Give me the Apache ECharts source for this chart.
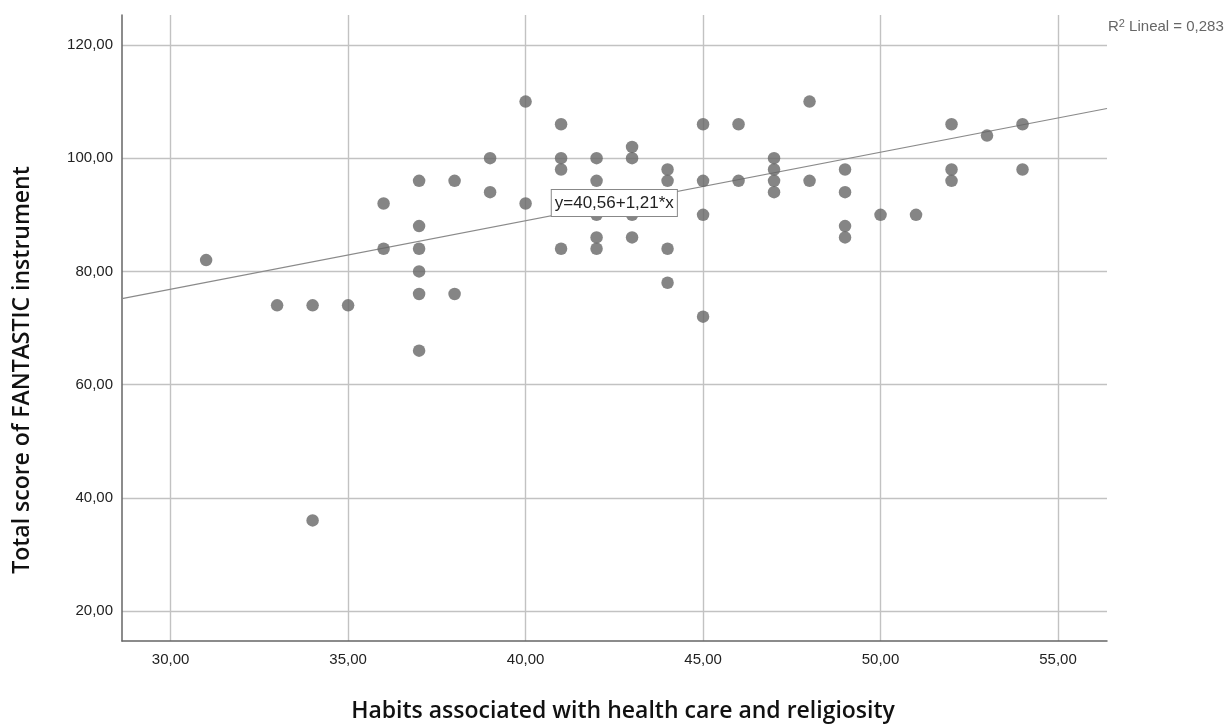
<!DOCTYPE html>
<html>
<head>
<meta charset="utf-8">
<script src="https://cdn.jsdelivr.net/npm/echarts@6/dist/echarts.min.js"></script>
<style>
html,body{margin:0;padding:0;background:#fff;}
#chart{width:1231px;height:727px;}
</style>
</head>
<body>
<div id="chart"></div>
<script>
// Data
const habitsX = [31,33,34,34,35,36,36,37,37,37,37,37,37,38,38,39,39,40,40,41,41,41,41,42,42,42,42,42,43,43,43,43,44,44,44,44,45,45,45,45,46,46,47,47,47,47,48,48,49,49,49,49,50,51,52,52,52,53,54,54];
const fantasticY = [82,74,74,36,74,92,84,96,88,84,80,76,66,96,76,100,94,110,92,106,100,98,84,100,96,90,86,84,102,100,90,86,98,96,84,78,106,96,90,72,106,96,100,98,96,94,110,96,98,94,88,86,90,90,106,98,96,104,106,98];
const xTicks = [30,35,40,45,50,55];
const yTicks = [20,40,60,80,100,120];
const xRange = [28.63, 56.38];
const yRange = [14.7, 125.3];
const fitIntercept = 40.56;
const fitSlope = 1.21;
const fitLabel = 'y=40,56+1,21*x';
const r2Value = '0,283';

const points = habitsX.map((x, i) => [x, fantasticY[i]]);
const fitLine = xRange.map(x => [x, fitIntercept + fitSlope * x]);
const fmt = v => v.toFixed(2).replace('.', ',');
const FONT = 'Liberation Sans, Arial, sans-serif';

const chart = echarts.init(document.getElementById('chart'), null, {renderer: 'canvas'});
chart.setOption({
  animation: false,
  backgroundColor: '#ffffff',
  grid: {left: 122, top: 15, right: 124, bottom: 86, containLabel: false},
  xAxis: {
    type: 'value',
    min: xRange[0], max: xRange[1],
    axisLine: {show: true, lineStyle: {color: '#666', width: 1.5}},
    axisTick: {show: false, customValues: xTicks},
    axisLabel: {customValues: xTicks, formatter: fmt, color: '#222', fontSize: 15, fontFamily: FONT, margin: 11},
    splitLine: {show: true, lineStyle: {color: '#c2c2c2', width: 1.4}}
  },
  yAxis: {
    type: 'value',
    min: yRange[0], max: yRange[1],
    axisLine: {show: true, lineStyle: {color: '#666', width: 1.5}},
    axisTick: {show: false, customValues: yTicks},
    axisLabel: {customValues: yTicks, formatter: fmt, color: '#222', fontSize: 15, fontFamily: FONT, margin: 9},
    splitLine: {show: true, lineStyle: {color: '#c2c2c2', width: 1.4}}
  },
  series: [
    {
      type: 'line',
      data: fitLine,
      symbol: 'none',
      silent: true,
      lineStyle: {color: '#8a8a8a', width: 1.2},
      z: 2,
      markPoint: {
        symbol: 'rect', symbolSize: 1,
        itemStyle: {color: 'transparent'},
        data: [{coord: [42.5, 92.1], value: fitLabel}],
        label: {
          show: true, position: 'inside', formatter: fitLabel,
          color: '#222', fontSize: 17, fontFamily: FONT,
          backgroundColor: '#fff', borderColor: '#888', borderWidth: 1,
          padding: [5, 3, 4, 3]
        }
      }
    },
    {
      type: 'scatter',
      data: points,
      symbolSize: 12.5,
      itemStyle: {color: '#666666'},
      z: 3
    }
  ],
  graphic: [
    {
      type: 'text', left: 1108, top: 18,
      style: {
        rich: {
          n: {fontSize: 15, fill: '#666', fontFamily: FONT},
          s: {fontSize: 11, fill: '#666', fontFamily: FONT, verticalAlign: 'top', padding: [0, 0, 7, 0]}
        },
        text: '{n|R}{s|2}{n| Lineal = ' + r2Value + '}'
      }
    },
    {
      type: 'text', x: 22, y: 370, rotation: Math.PI / 2,
      style: {
        text: 'Total score of FANTASTIC instrument',
        fontSize: 23, fontWeight: 600, fontFamily: 'Open Sans, sans-serif',
        fill: '#111', align: 'center', verticalAlign: 'middle'
      }
    },
    {
      type: 'text', x: 623, y: 711,
      style: {
        text: 'Habits associated with health care and religiosity',
        fontSize: 23, fontWeight: 600, fontFamily: 'Open Sans, sans-serif',
        fill: '#111', align: 'center', verticalAlign: 'middle'
      }
    }
  ]
});
</script>
</body>
</html>
